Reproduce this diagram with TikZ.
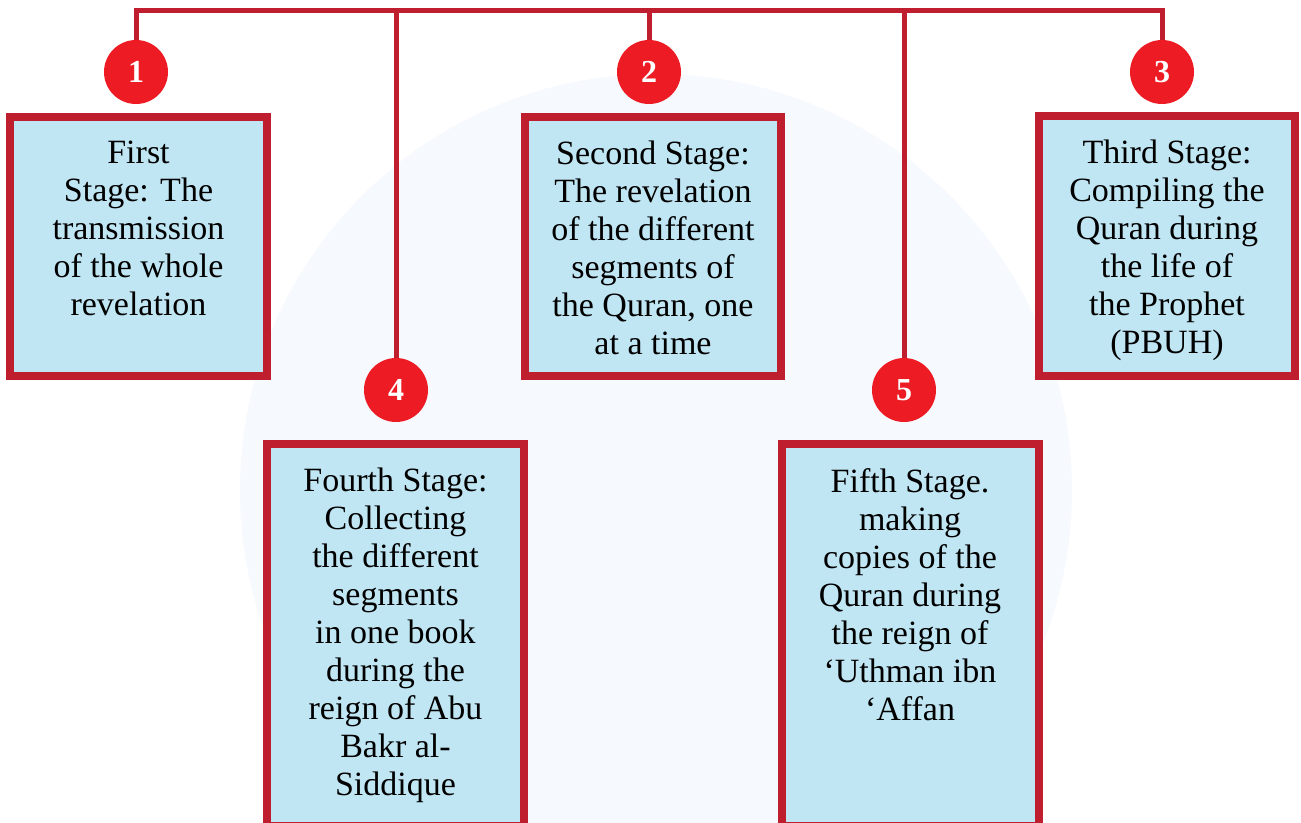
\documentclass[tikz,border=0pt]{standalone}
\usepackage{fontspec}
\setmainfont{Liberation Serif}
\definecolor{darkred}{HTML}{BE1E2D}
\definecolor{brightred}{HTML}{ED1C24}
\definecolor{boxblue}{HTML}{C0E6F3}
\definecolor{wmark}{HTML}{F6F9FD}
\tikzset{
  stagebox/.style={draw=darkred, line width=8pt, fill=boxblue, inner sep=0pt},
  stagetext/.style={anchor=north, align=center, inner sep=0pt, font=\fontsize{34}{38}\selectfont},
  numdot/.style={circle, fill=brightred, minimum size=64pt, inner sep=0pt, text=white, font=\fontsize{32}{32}\selectfont\bfseries},
  link/.style={draw=darkred, line width=5pt, line join=miter}
}
\begin{document}
\begin{tikzpicture}[x=1pt,y=-1pt]
\useasboundingbox (0,0) rectangle (1301,822);
\fill[white] (0,0) rectangle (1301,822);
% faint watermark
\fill[wmark] (656,490) circle (416);
\coordinate (bar) at (0,10.5);
% circles
\node[numdot] (c1) at (136,72) {1};
\node[numdot] (c2) at (649,72) {2};
\node[numdot] (c3) at (1162,72) {3};
\node[numdot] (c4) at (396,390) {4};
\node[numdot] (c5) at (904,390) {5};
% connectors
\draw[link] (c1.north) -- (c1.north |- bar) -- (c3.north |- bar) -- (c3.north);
\draw[link] (c2.north |- bar) -- (c2.north);
\draw[link] (c4.north |- bar) -- (c4.north);
\draw[link] (c5.north |- bar) -- (c5.north);
% boxes
\node[stagebox, minimum width=257pt, minimum height=259pt] (b1) at (138.5,246.5) {};
\node[stagebox, minimum width=256pt, minimum height=259pt] (b2) at (653,246.5) {};
\node[stagebox, minimum width=256pt, minimum height=260pt] (b3) at (1167,246) {};
\node[stagebox, minimum width=257pt, minimum height=382pt] (b4) at (395.5,635) {};
\node[stagebox, minimum width=257pt, minimum height=382pt] (b5) at (910,635) {};
% texts
\node[stagetext] (t1) at ([yshift=-28pt]b1.north) {First\\Stage: The\\transmission\\of the whole\\revelation};
\node[stagetext] (t2) at ([yshift=-28pt]b2.north) {Second Stage:\\The revelation\\of the different\\segments of\\the Quran, one\\at a time};
\node[stagetext] (t3) at ([yshift=-28pt]b3.north) {Third Stage:\\Compiling the\\Quran during\\the life of\\the Prophet\\(PBUH)};
\node[stagetext] (t4) at ([yshift=-28pt]b4.north) {Fourth Stage:\\Collecting\\the different\\segments\\in one book\\during the\\reign of Abu\\Bakr al-\\Siddique};
\node[stagetext] (t5) at ([yshift=-28pt]b5.north) {Fifth Stage.\\making\\copies of the\\Quran during\\the reign of\\‘Uthman ibn\\‘Affan};
\end{tikzpicture}
\end{document}
